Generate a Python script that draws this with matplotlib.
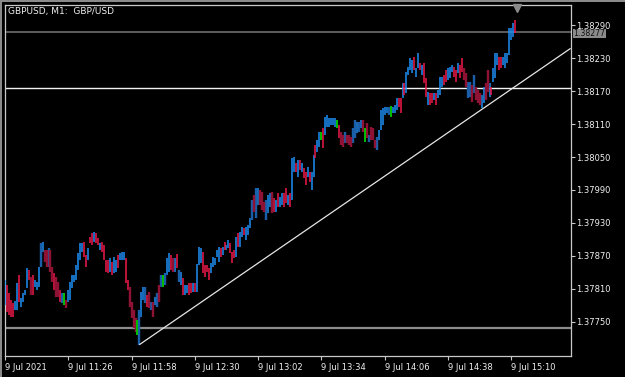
import matplotlib
matplotlib.use('Agg')
import matplotlib.pyplot as plt
import matplotlib.transforms as mtransforms
from matplotlib.patches import Rectangle

title = "GBPUSD, M1:  GBP/USD"

highs = [
    1.37826, 1.37817, 1.37802, 1.37790, 1.37784, 1.37788, 1.37821, 1.37835, 1.37793, 1.37802,
    1.37808, 1.37848, 1.37844, 1.37831, 1.37835, 1.37826, 1.37822, 1.37850, 1.37893, 1.37895,
    1.37881, 1.37881, 1.37884, 1.37881, 1.37850, 1.37839, 1.37831, 1.37822, 1.37808, 1.37802,
    1.37802, 1.37790, 1.37808, 1.37822, 1.37835, 1.37835, 1.37853, 1.37875, 1.37893, 1.37893,
    1.37895, 1.37872, 1.37884, 1.37904, 1.37912, 1.37913, 1.37912, 1.37902, 1.37893, 1.37895,
    1.37890, 1.37862, 1.37862, 1.37866, 1.37859, 1.37868, 1.37862, 1.37872, 1.37875, 1.37877,
    1.37877, 1.37866, 1.37826, 1.37813, 1.37786, 1.37771, 1.37757, 1.37753, 1.37771, 1.37804,
    1.37813, 1.37813, 1.37799, 1.37804, 1.37786, 1.37786, 1.37795, 1.37802, 1.37817, 1.37835,
    1.37835, 1.37839, 1.37866, 1.37875, 1.37872, 1.37866, 1.37866, 1.37873, 1.37844, 1.37840,
    1.37830, 1.37817, 1.37817, 1.37821, 1.37821, 1.37821, 1.37821, 1.37855, 1.37886, 1.37884,
    1.37877, 1.37853, 1.37853, 1.37848, 1.37857, 1.37868, 1.37866, 1.37881, 1.37886, 1.37884,
    1.37886, 1.37895, 1.37890, 1.37899, 1.37893, 1.37877, 1.37881, 1.37904, 1.37912, 1.37913,
    1.37923, 1.37921, 1.37923, 1.37926, 1.37939, 1.37972, 1.37981, 1.37993, 1.37993, 1.37990,
    1.37986, 1.37968, 1.37972, 1.37981, 1.37984, 1.37986, 1.37975, 1.37972, 1.37984, 1.37977,
    1.37984, 1.37984, 1.37993, 1.37981, 1.37984, 1.38048, 1.38050, 1.38039, 1.38045, 1.38045,
    1.38039, 1.38030, 1.38022, 1.38032, 1.38022, 1.38022, 1.38054, 1.38072, 1.38081, 1.38095,
    1.38095, 1.38103, 1.38123, 1.38127, 1.38121, 1.38121, 1.38121, 1.38121, 1.38117, 1.38108,
    1.38095, 1.38090, 1.38095, 1.38090, 1.38090, 1.38086, 1.38103, 1.38117, 1.38114, 1.38114,
    1.38117, 1.38117, 1.38103, 1.38112, 1.38090, 1.38105, 1.38103, 1.38081, 1.38086, 1.38099,
    1.38136, 1.38139, 1.38141, 1.38141, 1.38141, 1.38143, 1.38141, 1.38145, 1.38158, 1.38158,
    1.38158, 1.38185, 1.38185, 1.38205, 1.38214, 1.38230, 1.38227, 1.38232, 1.38212, 1.38239,
    1.38221, 1.38218, 1.38221, 1.38194, 1.38168, 1.38167, 1.38167, 1.38167, 1.38167, 1.38172,
    1.38196, 1.38196, 1.38200, 1.38209, 1.38212, 1.38214, 1.38218, 1.38214, 1.38209, 1.38221,
    1.38218, 1.38230, 1.38212, 1.38203, 1.38186, 1.38186, 1.38181, 1.38200, 1.38178, 1.38172,
    1.38167, 1.38163, 1.38178, 1.38185, 1.38209, 1.38185, 1.38178, 1.38212, 1.38239, 1.38239,
    1.38232, 1.38232, 1.38232, 1.38239, 1.38239, 1.38285, 1.38285, 1.38294, 1.38300,
]

lows = [
    1.37780, 1.37768, 1.37762, 1.37759, 1.37759, 1.37771, 1.37771, 1.37786, 1.37777, 1.37786,
    1.37799, 1.37811, 1.37826, 1.37799, 1.37799, 1.37813, 1.37808, 1.37813, 1.37850, 1.37877,
    1.37859, 1.37850, 1.37850, 1.37840, 1.37822, 1.37808, 1.37795, 1.37795, 1.37786, 1.37784,
    1.37780, 1.37775, 1.37786, 1.37790, 1.37811, 1.37822, 1.37826, 1.37844, 1.37862, 1.37877,
    1.37868, 1.37850, 1.37862, 1.37893, 1.37890, 1.37895, 1.37893, 1.37890, 1.37881, 1.37877,
    1.37862, 1.37840, 1.37839, 1.37840, 1.37835, 1.37839, 1.37840, 1.37848, 1.37862, 1.37862,
    1.37862, 1.37821, 1.37808, 1.37777, 1.37757, 1.37738, 1.37731, 1.37726, 1.37708, 1.37759,
    1.37790, 1.37784, 1.37777, 1.37775, 1.37771, 1.37759, 1.37780, 1.37777, 1.37786, 1.37813,
    1.37813, 1.37817, 1.37835, 1.37840, 1.37844, 1.37840, 1.37840, 1.37848, 1.37822, 1.37817,
    1.37799, 1.37799, 1.37802, 1.37799, 1.37802, 1.37804, 1.37804, 1.37804, 1.37853, 1.37857,
    1.37839, 1.37831, 1.37840, 1.37826, 1.37839, 1.37850, 1.37853, 1.37868, 1.37859, 1.37868,
    1.37872, 1.37881, 1.37881, 1.37884, 1.37875, 1.37857, 1.37866, 1.37868, 1.37886, 1.37886,
    1.37904, 1.37908, 1.37899, 1.37908, 1.37921, 1.37935, 1.37950, 1.37939, 1.37963, 1.37963,
    1.37954, 1.37950, 1.37935, 1.37948, 1.37959, 1.37948, 1.37950, 1.37950, 1.37959, 1.37959,
    1.37963, 1.37959, 1.37966, 1.37963, 1.37959, 1.37972, 1.38022, 1.38022, 1.38013, 1.38026,
    1.38022, 1.38012, 1.37999, 1.38013, 1.38004, 1.37990, 1.38013, 1.38048, 1.38059, 1.38068,
    1.38081, 1.38066, 1.38090, 1.38105, 1.38105, 1.38108, 1.38108, 1.38105, 1.38103, 1.38084,
    1.38072, 1.38068, 1.38075, 1.38075, 1.38072, 1.38068, 1.38075, 1.38084, 1.38094, 1.38095,
    1.38103, 1.38095, 1.38077, 1.38084, 1.38077, 1.38081, 1.38081, 1.38066, 1.38063, 1.38081,
    1.38099, 1.38108, 1.38127, 1.38130, 1.38127, 1.38123, 1.38130, 1.38130, 1.38136, 1.38141,
    1.38130, 1.38158, 1.38163, 1.38167, 1.38200, 1.38209, 1.38203, 1.38209, 1.38196, 1.38212,
    1.38209, 1.38200, 1.38185, 1.38159, 1.38145, 1.38145, 1.38148, 1.38154, 1.38145, 1.38158,
    1.38163, 1.38178, 1.38181, 1.38186, 1.38190, 1.38194, 1.38205, 1.38196, 1.38186, 1.38203,
    1.38194, 1.38205, 1.38190, 1.38178, 1.38158, 1.38159, 1.38150, 1.38167, 1.38154, 1.38148,
    1.38145, 1.38139, 1.38148, 1.38154, 1.38168, 1.38159, 1.38163, 1.38186, 1.38194, 1.38218,
    1.38209, 1.38212, 1.38218, 1.38212, 1.38221, 1.38236, 1.38263, 1.38269, 1.38276,
]

bar_codes = (
    "brrrrbbrbb" "bbrRrbbbBb" "RRBRRrRRrB" "gRbbbbbbbb" "rrbrrbrrbr"
    "rrrbrbbrbb" "brrRRRRgBb" "bBrRBRbBRB" "gBbbrRbrBb" "rbbrrbrbbb"
    "rrrrbbbbbr" "brbbrrrbrb" "brbbbBRBbR" "RRBbbRrbrb" "brrbrbbrbr"
    "brrbrbbrbb" "grbbbbbbgr" "RRBRRRBBbB" "bRgRBRRRBb" "bbbbBgbbbr"
    "rbrbbbbrbb" "rbrrbrrbrb" "bbrrbbbrrb" "rrRRBBRBRR" "RbbRRbrbbb"
    "rrbbbbbbr"
)

bid_price = 1.38277
white_level = 1.38175
gray_level = 1.37739
trend_x = [67.9, 286.0]
trend_y = [1.37708, 1.38248]

ytick_vals = [1.37750, 1.37810, 1.37870, 1.37930, 1.37990,
              1.38050, 1.38110, 1.38170, 1.38230, 1.38290]
xtick_pos = [0, 32, 64, 96, 128, 160, 192, 224, 256]
xtick_labels = ["9 Jul 2021", "9 Jul 11:26", "9 Jul 11:58", "9 Jul 12:30",
                "9 Jul 13:02", "9 Jul 13:34", "9 Jul 14:06", "9 Jul 14:38",
                "9 Jul 15:10"]

color_map = {'b': '#1E8FF5', 'B': '#1B5EA8', 'r': '#F0184A',
             'R': '#8E1234', 'g': '#00C000'}
width_map = {'b': 1.1, 'B': 1.75, 'r': 1.1, 'R': 1.75, 'g': 1.4}

W, H = 625, 377
fig = plt.figure(figsize=(W / 100, H / 100), dpi=100, facecolor='black')
ax_left, ax_right, ax_top, ax_bot = 4.7, 571.0, 4.7, 355.7
ax = fig.add_axes([ax_left / W, 1 - ax_bot / H, (ax_right - ax_left) / W,
                   (ax_bot - ax_top) / H])
ax.set_facecolor('black')

ax.set_xlim(-0.15, 286.2)
ax.set_ylim(1.37688, 1.383276)

# horizontal levels
ax.axhline(gray_level, color='#8C8C8C', lw=1.6, zorder=1)
ax.axhline(white_level, color='#F2F2F2', lw=1.0, zorder=1)
ax.axhline(bid_price, color='#6E6E6E', lw=1.2, zorder=1)

# bars
idx = list(range(len(highs)))
for code in color_map:
    xs = [i for i in idx if bar_codes[i] == code]
    if not xs:
        continue
    ax.vlines(xs, [lows[i] for i in xs], [highs[i] for i in xs],
              colors=color_map[code], linewidths=width_map[code], zorder=3)

# trend line
ax.plot(trend_x, trend_y, color='#E6E6E6', lw=0.9, zorder=4, solid_capstyle='butt')

# chart shift marker
trans_xa = mtransforms.blended_transform_factory(ax.transData, ax.transAxes)
ax.plot([len(highs) - 0.2], [0.991], marker='v', color='#8A8A8A', markersize=6,
        transform=trans_xa, clip_on=False, zorder=5)

# spines
for s in ax.spines.values():
    s.set_color('#C8C8C8')
    s.set_linewidth(0.9)

# y axis on right
ax.yaxis.tick_right()
ax.set_yticks(ytick_vals)
ax.set_yticklabels([f"{v:.5f}" for v in ytick_vals])
ax.tick_params(axis='y', direction='out', length=3, width=0.8, color='#C8C8C8',
               labelcolor='#F0F0F0', labelsize=6, pad=1)

# x axis
ax.set_xticks(xtick_pos)
ax.set_xticklabels(xtick_labels)
ax.tick_params(axis='x', direction='out', length=3, width=0.8, color='#C8C8C8',
               labelcolor='#F0F0F0', labelsize=6, pad=2)
for lab in ax.get_xticklabels():
    lab.set_horizontalalignment('left')

# bid label (slightly smaller box, nudged down a hair)
trans_ad = mtransforms.blended_transform_factory(ax.transAxes, ax.transData)
offset = mtransforms.ScaledTranslation(0, -1.0 / 100, fig.dpi_scale_trans)
ax.text(1.004, bid_price, f"{bid_price:.5f}", transform=trans_ad + offset,
        ha='left', va='center', fontsize=5.6, color='#101010', zorder=6,
        clip_on=False,
        bbox=dict(boxstyle='square,pad=0.05', fc='#8A8A8A', ec='none'))

# title
fig.text(8 / W, 1 - 11.5 / H, title, ha='left', va='center', fontsize=6.5,
         color='#F0F0F0')

# window border
fig.patches.append(Rectangle((0, 0), 1.6 / W, 1, transform=fig.transFigure,
                             fc='#8A8A8A', ec='none'))
fig.patches.append(Rectangle((0, 1 - 1.6 / H), 1, 1.6 / H, transform=fig.transFigure,
                             fc='#8A8A8A', ec='none'))

fig.savefig('out.png', dpi=100, facecolor='black')
